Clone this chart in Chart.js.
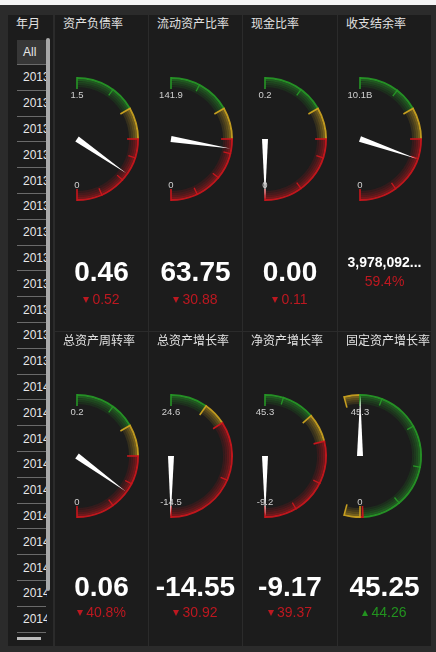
<!DOCTYPE html>
<html><head><meta charset="utf-8">
<script src="https://cdn.jsdelivr.net/npm/chart.js@4.4.0/dist/chart.umd.min.js"></script>
<style>
html,body{margin:0;padding:0;background:#2b2b2b;width:436px;height:652px;overflow:hidden;font-family:"Liberation Sans","Noto Sans CJK SC",sans-serif;}
.abs{position:absolute;}
.panel{position:absolute;background:#1c1c1c;}
.title{position:absolute;font-family:"Noto Sans CJK SC",sans-serif;font-size:12px;color:#e2e2e2;line-height:16px;white-space:nowrap;}
.item{position:absolute;left:17px;width:30px;height:25px;line-height:25px;overflow:hidden;color:#e8e8e8;font-size:12px;white-space:nowrap;}
.item span{padding-left:6px;}
.sep{position:absolute;left:17px;width:29px;height:1px;background:#6a6a6a;}
.lbl{position:absolute;width:60px;margin-left:-30px;text-align:center;color:#d0d0d0;font-size:9.5px;line-height:12px;}
.big{position:absolute;text-align:center;color:#fff;font-weight:bold;white-space:nowrap;}
.chg{position:absolute;text-align:center;font-size:14px;line-height:16px;white-space:nowrap;}
.tri{display:inline-block;width:0;height:0;border-left:3px solid transparent;border-right:3px solid transparent;margin-right:3px;position:relative;top:-1px;}
</style></head><body>
<div class="abs" style="left:0;top:0;width:436px;height:5px;background:#f4f4f4"></div>
<div id="root"></div>
<script>
// ---------- data ----------
const months=['All','2013','2013','2013','2013','2013','2013','2013','2013','2013','2013','2013','2013',
  '2014','2014','2014','2014','2014','2014','2014','2014','2014','2014'];
const titles=['资产负债率','流动资产比率','现金比率','收支结余率','总资产周转率','总资产增长率','净资产增长率','固定资产增长率'];
const gaugeMin=[0,0,0,0,0,-14.5,-9.2,0];
const gaugeMax=[1.5,141.9,0.2,10.1e9,0.2,24.6,45.3,45.3];
const gaugeValue=[0.46,63.75,0.00,3978092000,0.06,-14.55,-9.17,45.25];
const maxLabels=['1.5','141.9','0.2','10.1B','0.2','24.6','45.3','45.3'];
const minLabels=['0','0','0','0','0','-14.5','-9.2','0'];
const valueLabels=['0.46','63.75','0.00','3,978,092...','0.06','-14.55','-9.17','45.25'];
const changeLabels=['0.52','30.88','0.11','59.4%','40.8%','30.92','39.37','44.26'];
const changeDir=['down','down','down','none','down','down','down','up'];
// band edges from the top of the arc downwards (value units)
const bandEdges=[
  [1.5,1.0,0.75,0],
  [141.9,94.6,70.95,0],
  [0.2,0.1333,0.1,0],
  [10.1e9,6.73e9,5.05e9,0],
  [0.2,0.1333,0.1,0],
  [24.6,17.0,12.2,-14.5],
  [45.3,30.5,22.3,-9.2],
  [49.1,45.3,0.7,0,-3.8]
];
const bandColors=[['g','y','r'],['g','y','r'],['g','y','r'],['g','y','r'],['g','y','r'],['g','y','r'],['g','y','r'],['y','g','r','y']];
const gaugeTicks=[[1.2,0.6,0.4,0.2],[120,60,40,20],[0.16,0.08,0.04],[8e9,4e9,2e9],[0.16,0.07,0.04],[0],[40,10,0],[40,30,20,10]];

// ---------- style ----------
const COL={g:[38,150,38],y:[200,160,32],r:[200,22,28]};
const layerAlpha=[0.95,0.5,0.36,0.24,0.14];
const rgba=(c,a)=>`rgba(${c[0]},${c[1]},${c[2]},${a})`;
const panelX=[55,149,243,338], panelW=[93,93,94,93];
const panelY=[15,332], panelH=[316,314];
const valueY=[272,587], changeY=[299,612];
const R=62, CX=22;

const root=document.getElementById('root');
function add(html){root.insertAdjacentHTML('beforeend',html);}

// sidebar
add(`<div class="panel" style="left:8px;top:15px;width:45px;height:631px"></div>`);
add(`<div class="title" style="left:16px;top:15px">年月</div>`);
months.forEach((m,i)=>{
  const c=52+i*25.8;
  add(`<div class="item" style="top:${c-12.5}px;${i===0?'background:#373737;':''}"><span>${m}</span></div>`);
  add(`<div class="sep" style="top:${c+12}px"></div>`);
});
add(`<div class="abs" style="left:46px;top:38px;width:3.5px;height:553px;background:#a9a9a9;border-radius:2px"></div>`);
add(`<div class="abs" style="left:17px;top:637px;width:24px;height:3px;background:#bdbdbd"></div>`);

function ratioOffset(rotDeg,circDeg,cutout){
  const TAU=Math.PI*2;
  const s=(rotDeg-90)*Math.PI/180, e=s+circDeg*Math.PI/180;
  const between=a=>{let d=(a-s)%TAU; if(d<0)d+=TAU; return d<=e-s+1e-9;};
  const sx=Math.cos(s), ex=Math.cos(e);
  const maxX=between(0)?1:Math.max(sx,sx*cutout,ex,ex*cutout);
  const minX=between(Math.PI)?-1:Math.min(sx,sx*cutout,ex,ex*cutout);
  return -(maxX+minX)/2;
}

const gaugePlugin={
  id:'gaugeDecor',
  afterDatasetsDraw(chart,args,opts){
    const i=opts.idx;
    const edges=bandEdges[i], cols=bandColors[i];
    const meta0=chart.getDatasetMeta(0);
    const els=meta0.data;
    const first=els[0], last=els[els.length-1];
    const cx=first.x, cy=first.y, ro=first.outerRadius;
    const ri=chart.getDatasetMeta(layerAlpha.length-1).data[0].innerRadius;
    const top=edges[0], bot=edges[edges.length-1];
    const a0=first.startAngle, a1=last.endAngle;
    const ang=v=>a0+(top-v)/(top-bot)*(a1-a0);
    const ctx=chart.ctx;
    ctx.save();
    const radial=(a,r1,r2,color,w)=>{
      ctx.beginPath();
      ctx.moveTo(cx+Math.cos(a)*r1,cy+Math.sin(a)*r1);
      ctx.lineTo(cx+Math.cos(a)*r2,cy+Math.sin(a)*r2);
      ctx.strokeStyle=color;ctx.lineWidth=w;ctx.stroke();
    };
    els.forEach((el,k)=>radial(el.startAngle,ri-2,ro,rgba(COL[cols[k]],1),1.6));
    radial(last.endAngle,ri-2,ro,rgba(COL[cols[cols.length-1]],1),1.6);
    gaugeTicks[i].forEach(v=>{
      let k=0; while(k<edges.length-2 && v<edges[k+1]) k++;
      radial(ang(v),ro-8,ro,rgba(COL[cols[k]],1),1.3);
    });
    // needle
    let a=ang(gaugeValue[i]);
    const L=60, w=3;
    ctx.beginPath();
    ctx.moveTo(cx+Math.cos(a)*L,cy+Math.sin(a)*L);
    ctx.lineTo(cx+Math.cos(a+Math.PI/2)*w,cy+Math.sin(a+Math.PI/2)*w);
    ctx.lineTo(cx+Math.cos(a-Math.PI/2)*w,cy+Math.sin(a-Math.PI/2)*w);
    ctx.closePath();
    ctx.fillStyle='#ffffff';ctx.fill();
    ctx.restore();
  }
};

titles.forEach((t,i)=>{
  const r=Math.floor(i/4), c=i%4;
  const px=panelX[c], py=panelY[r], pw=panelW[c];
  add(`<div class="panel" style="left:${px}px;top:${py}px;width:${pw}px;height:${panelH[r]}px"></div>`);
  add(`<div class="title" style="left:${px+8}px;top:${py}px">${t}</div>`);
  const cy=py+124;
  const cw=pw, ch=150;
  add(`<canvas id="g${i}" class="abs" width="${cw}" height="${ch}" style="left:${px}px;top:${cy-75}px;width:${cw}px;height:${ch}px"></canvas>`);
  const edges=bandEdges[i];
  const span=gaugeMax[i]-gaugeMin[i];
  const rotation=(gaugeMax[i]-edges[0])/span*180;
  const circumference=(edges[0]-edges[edges.length-1])/span*180;
  const sizes=[]; for(let k=0;k<edges.length-1;k++) sizes.push(edges[k]-edges[k+1]);
  const offX=ratioOffset(rotation,circumference,0.84);
  const areaC=CX-offX*R;
  let pl=0,pr=0;
  if(2*areaC>=cw) pl=2*areaC-cw; else pr=cw-2*areaC;
  const datasets=layerAlpha.map(al=>({
    data:sizes,
    backgroundColor:bandColors[i].map(k=>rgba(COL[k],al)),
    borderWidth:0,
    weight:2
  }));
  new Chart(document.getElementById('g'+i),{
    type:'doughnut',
    data:{datasets},
    options:{
      responsive:false,animation:false,events:[],
      rotation,circumference,cutout:'84%',radius:R,
      layout:{padding:{left:pl,right:pr,top:0,bottom:0}},
      plugins:{legend:{display:false},tooltip:{enabled:false},gaugeDecor:{idx:i}}
    },
    plugins:[gaugePlugin]
  });
  const cxAbs=px+CX;
  add(`<div class="lbl" style="left:${cxAbs}px;top:${cy-50}px">${maxLabels[i]}</div>`);
  add(`<div class="lbl" style="left:${cxAbs}px;top:${cy+40}px">${minLabels[i]}</div>`);
  const small=valueLabels[i].length>8;
  const fs=small?14:28;
  const vy=small?262:valueY[r];
  add(`<div class="big" style="left:${px}px;width:${pw}px;top:${vy-fs*0.6}px;font-size:${fs}px;line-height:${fs*1.2}px">${valueLabels[i]}</div>`);
  const chy=small?281:changeY[r];
  const color=changeDir[i]==='up'?'#22931f':'#bd1820';
  let tri='';
  if(changeDir[i]==='down') tri=`<span class="tri" style="border-top:6px solid ${color}"></span>`;
  if(changeDir[i]==='up') tri=`<span class="tri" style="border-bottom:6px solid ${color}"></span>`;
  add(`<div class="chg" style="left:${px}px;width:${pw}px;top:${chy-8}px;color:${color}">${tri}${changeLabels[i]}</div>`);
});
</script>
</body></html>
